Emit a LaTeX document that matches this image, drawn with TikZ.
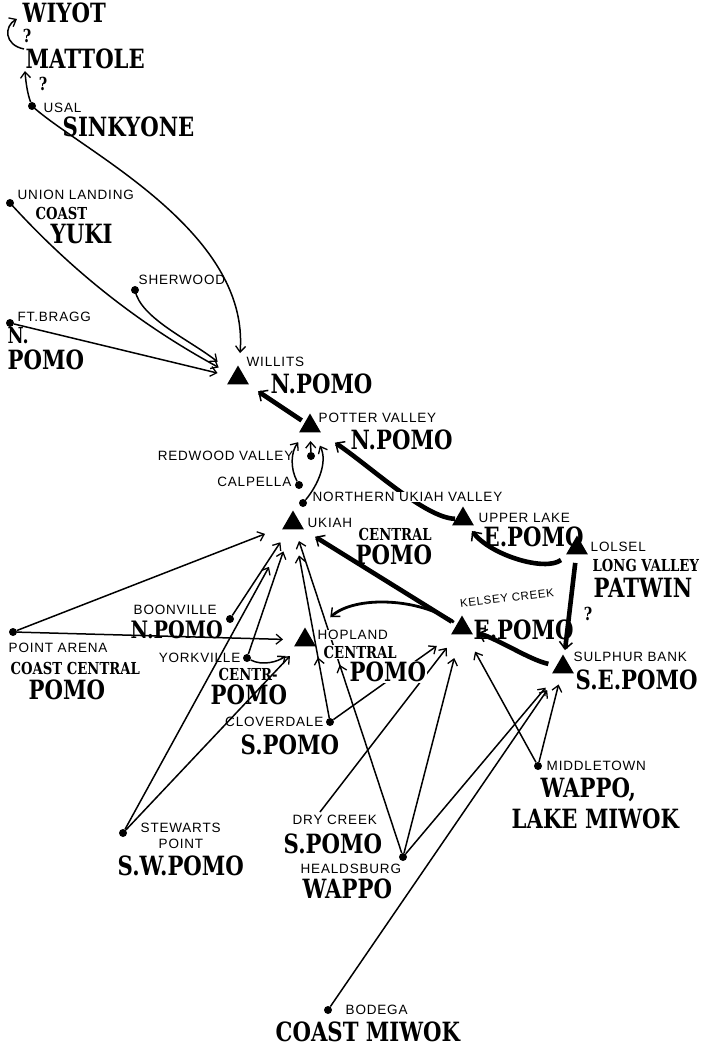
\documentclass[tikz,border=0pt]{standalone}
\usepackage{fontspec}
\newfontfamily\bigf{DejaVu Serif}[FakeStretch=0.8]
\newfontfamily\labf{Liberation Sans}[LetterSpace=6]
\usetikzlibrary{arrows.meta,decorations.markings,shapes.geometric}
\begin{document}
\begin{tikzpicture}[x=1pt,y=-1pt,
  arr/.style={line width=1.5pt,-{Straight Barb[length=6pt,width=10pt,line width=1.3pt]}},
  thk/.style={line width=4.6pt,-{Straight Barb[length=7pt,width=13pt,line width=1.5pt]}},
  medarr/.style={line width=2.8pt,-{Straight Barb[length=7pt,width=12pt,line width=1.4pt]}},
  midarr/.style={postaction={decorate},decoration={markings,mark=at position #1 with {\arrow{Straight Barb[length=6pt,width=10pt,line width=1.3pt]}}}},
  pdot/.style={circle,fill=black,inner sep=0pt,minimum size=8pt},
  tri/.style={regular polygon,regular polygon sides=3,fill=black,inner sep=0pt,minimum size=25pt},
  tbig/.style={font=\bigf\bfseries\fontsize{26.5}{28}\selectfont,inner sep=0.5pt,anchor=west},
  tmid/.style={font=\bigf\bfseries\fontsize{16.5}{18}\selectfont,inner sep=0.5pt,anchor=west},
  tlab/.style={font=\labf\fontsize{13.5}{15}\selectfont,inner sep=0.5pt,anchor=west},
  tq/.style={font=\bigf\bfseries\fontsize{18}{19}\selectfont,inner sep=0pt},
  knock/.style={fill=white}]
\fill[white] (0,0) rectangle (715,1048);
\useasboundingbox (0,0) rectangle (715,1048);

% triangles (villages)
\node[tri] (willits) at (238,378) {};
\node[tri] (potter) at (310,426) {};
\node[tri] (ukiah) at (293,523) {};
\node[tri] (upper) at (463,519) {};
\node[tri] (lolsel) at (577,548) {};
\node[tri] (hop) at (305,640) {};
\node[tri] (kc) at (462,628) {};
\node[tri] (sb) at (563,667) {};

% dots
\node[pdot] (usal) at (32,106) {};
\node[pdot] (union) at (10,203) {};
\node[pdot] (sher) at (135,290) {};
\node[pdot] (bragg) at (10,323) {};
\node[pdot] (redw) at (311,456) {};
\node[pdot] (calp) at (299,485) {};
\node[pdot] (nuv) at (303,503) {};
\node[pdot] (boon) at (230,619) {};
\node[pdot] (parena) at (13,632) {};
\node[pdot] (york) at (247,658) {};
\node[pdot] (clover) at (330,722) {};
\node[pdot] (midtown) at (538,766) {};
\node[pdot] (stew) at (123,833) {};
\node[pdot] (heald) at (403,857) {};
\node[pdot] (bodega) at (328,1010) {};
\coordinate (dry) at (320,812);
\coordinate (matTop) at (24,49);
\coordinate (wiyTip) at (17,19);
\coordinate (matTip) at (25,71);

% connectors, north
\draw[arr] (matTop) .. controls (4,45) and (4,26) .. (wiyTip);
\draw[arr] (usal) .. controls (28,95) and (26,85) .. (matTip);
\draw[arr,shorten >=25pt] (usal.center) .. controls (80,150) and (250,230) .. (willits.center);
\draw[arr,shorten >=22pt] (union.center) .. controls (80,280) and (150,330) .. (willits.center);
\draw[arr,shorten >=26pt] (sher.center) .. controls (140,318) and (190,340) .. (willits.center);
\draw[arr,shorten >=21pt] (bragg) -- (willits.center);

% thick routes
\draw[thk,shorten <=10pt,shorten >=24pt] (potter.center) -- (willits.center);
\draw[thk,shorten <=8pt,shorten >=30pt] (upper.center) .. controls (425,518) and (370,466) .. (potter.center);
\draw[thk,shorten <=20pt,shorten >=15pt] (lolsel.center) .. controls (545,572) and (490,555) .. (upper.center);
\draw[thk,shorten <=15pt,shorten >=17pt] (lolsel.center) -- (sb.center);
\draw[thk,shorten <=15pt,shorten >=17pt] (sb.center) .. controls (530,660) and (500,640) .. (kc.center);
\draw[thk,shorten <=12pt,shorten >=26pt] (kc.center) -- (ukiah.center);
\draw[medarr,shorten <=10pt,shorten >=34pt] (kc.center) .. controls (420,598) and (355,595) .. (hop.center);

% into Potter Valley
\draw[arr,shorten >=15pt] (redw) -- (potter.center);
\draw[arr,shorten >=20pt] (calp) .. controls (290,468) and (291,452) .. (potter.center);
\draw[arr,shorten >=22pt] (nuv) .. controls (318,485) and (328,462) .. (potter.center);

% into Ukiah
\draw[arr,shorten >=30pt] (parena) -- (ukiah.center);
\draw[arr,shorten >=23pt] (boon) -- (ukiah.center);
\draw[arr,shorten >=30pt] (york) -- (ukiah.center);
\draw[arr,shorten >=50pt] (stew) -- (ukiah.center);
\draw[arr,shorten >=33pt,midarr=0.31] (clover) -- (ukiah.center);
\draw[arr,shorten >=19pt,midarr=0.57] (heald) -- (ukiah.center);

% into Hopland
\draw[arr,shorten >=22pt] (parena) -- (hop.center);
\draw[arr,shorten >=25pt] (york) .. controls (262,666) and (278,662) .. (hop.center);
\draw[arr,shorten >=22pt] (stew) -- (hop.center);

% into Kelsey Creek
\draw[arr,shorten >=31pt] (clover) -- (kc.center);
\draw[arr,shorten >=25pt] (dry) -- (kc.center);
\draw[arr,shorten >=31pt] (heald) -- (kc.center);
\draw[arr,shorten >=27pt] (midtown) -- (kc.center);

% into Sulphur Bank
\draw[arr,shorten >=18pt] (midtown) -- (sb.center);
\draw[arr,shorten >=27pt] (heald) -- (sb.center);
\draw[arr,shorten >=28pt] (bodega) -- (sb.center);

% labels
\node[tbig] (lWiyot) at (22,13) {WIYOT};
\node[tq] (q1) at (27,36) {?};
\node[tbig] (lMattole) at (25,59) {MATTOLE};
\node[tq] (q2) at (43,84) {?};
\node[tlab] (lUsal) at (43,108) {USAL};
\node[tbig] (lSinkyone) at (62,127) {SINKYONE};
\node[tlab] (lUnion) at (17,195) {UNION LANDING};
\node[tmid] (lCoastY) at (35,213) {COAST};
\node[tbig] (lYuki) at (50,234) {YUKI};
\node[tlab] (lSher) at (138,280) {SHERWOOD};
\node[tlab] (lBragg) at (17,317) {FT.BRAGG};
\node[tbig,font=\bigf\bfseries\fontsize{22}{24}\selectfont] (lNdot) at (7,336) {N.};
\node[tbig] (lPomoB) at (7,360) {POMO};
\node[tlab] (lWillits) at (246,362) {WILLITS};
\node[tbig] (lNPomoW) at (270,384) {N.POMO};
\node[tlab] (lPotter) at (318,418) {POTTER VALLEY};
\node[tbig] (lNPomoP) at (350,440) {N.POMO};
\node[tlab,anchor=east] (lRedw) at (294,456) {REDWOOD VALLEY};
\node[tlab,anchor=east] (lCalp) at (292,482) {CALPELLA};
\node[tlab,knock] (lNuv) at (312,497) {NORTHERN UKIAH VALLEY};
\node[tlab] (lUkiah) at (307,523) {UKIAH};
\node[tmid] (lCentU) at (358,534) {CENTRAL};
\node[tbig] (lPomoU) at (355,555) {POMO};
\node[tlab] (lUpper) at (478,518) {UPPER LAKE};
\node[tbig] (lEPomoU) at (483,537) {E.POMO};
\node[tlab] (lLolsel) at (590,547) {LOLSEL};
\node[tmid] (lLong) at (592,565) {LONG VALLEY};
\node[tbig] (lPatwin) at (593,588) {PATWIN};
\node[tq] (q3) at (588,614) {?};
\node[tlab,anchor=center,rotate=7,font=\labf\fontsize{11.5}{12}\selectfont] (lKelsey) at (507,598) {KELSEY CREEK};
\node[tbig] (lEPomoK) at (473,630) {E.POMO};
\node[tlab] (lSulphur) at (573,657) {SULPHUR BANK};
\node[tbig] (lSEPomo) at (575,680) {S.E.POMO};
\node[tlab] (lBoon) at (133,610) {BOONVILLE};
\node[tbig,font=\bigf\bfseries\fontsize{24}{26}\selectfont] (lNPomoB) at (130,630) {N.POMO};
\node[tlab] (lParena) at (8,648) {POINT ARENA};
\node[tmid] (lCoastC) at (10,668) {COAST CENTRAL};
\node[tbig] (lPomoPA) at (28,690) {POMO};
\node[tlab,anchor=east] (lYork) at (241,658) {YORKVILLE};
\node[tmid] (lCentr) at (218,674) {CENTR-};
\node[tbig] (lPomoY) at (210,695) {POMO};
\node[tlab,knock] (lHop) at (317,635) {HOPLAND};
\node[tmid,knock] (lCentH) at (323,652) {CENTRAL};
\node[tbig,knock] (lPomoH) at (349,672) {POMO};
\node[tlab,anchor=east] (lClover) at (324,722) {CLOVERDALE};
\node[tbig] (lSPomoC) at (240,745) {S.POMO};
\node[tlab] (lMidtown) at (546,766) {MIDDLETOWN};
\node[tbig] (lWappoM) at (540,790) {WAPPO,};
\node[tbig] (lLakeM) at (511,819) {LAKE MIWOK};
\node[tlab] (lDry) at (292,820) {DRY CREEK};
\node[tbig] (lSPomoD) at (283,844) {S.POMO};
\node[tlab] (lStew) at (140,828) {STEWARTS};
\node[tlab] (lPoint) at (158,844) {POINT};
\node[tbig] (lSWPomo) at (117,866) {S.W.POMO};
\node[tlab] (lHeald) at (300,869) {HEALDSBURG};
\node[tbig] (lWappoH) at (302,889) {WAPPO};
\node[tlab] (lBodega) at (345,1010) {BODEGA};
\node[tbig] (lCoastM) at (275,1032) {COAST MIWOK};
\end{tikzpicture}
\end{document}
